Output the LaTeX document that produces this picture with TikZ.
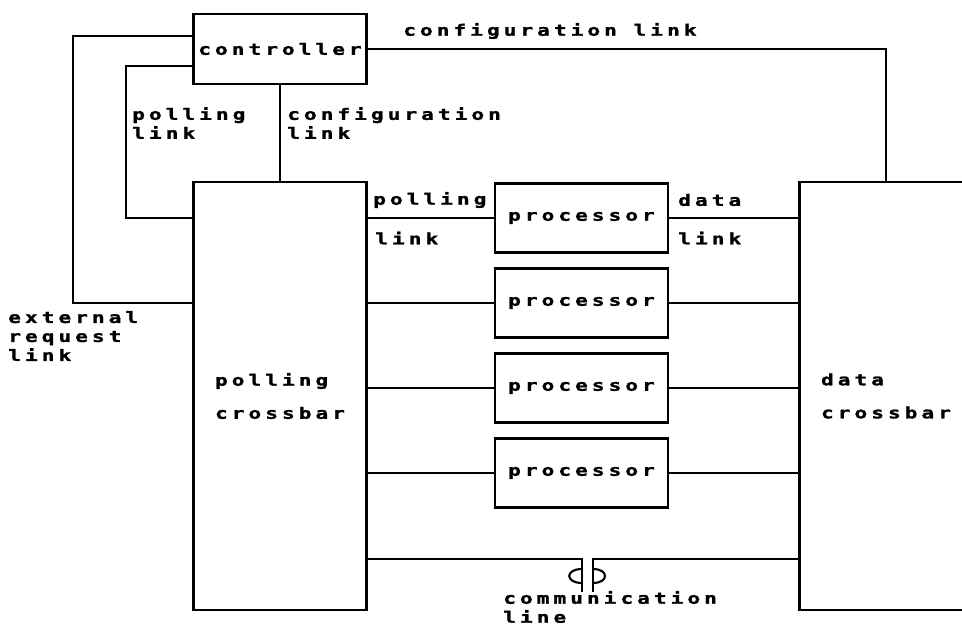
\documentclass[tikz,border=0pt]{standalone}
\usepackage{fontspec}
\newfontfamily\pixfont{DejaVu Sans Mono Bold}[FakeStretch=1.35,LetterSpace=26,FakeBold=1.5]
\usetikzlibrary{calc}

\tikzset{
  lbl/.style={font=\pixfont\fontsize{11.1}{13.5}\selectfont, inner sep=0pt},
  unit/.style={draw, line width=1.5pt, lbl, minimum width=4.325cm},
  wire/.style={line width=1.5pt}
}

\begin{document}
\begin{tikzpicture}[x=0.025cm,y=-0.025cm]
\useasboundingbox (0,0) rectangle (962,628);
\clip (0,0) rectangle (962,628);

% boxes
\node[unit, minimum height=1.75cm] (ctrl) at (280,49) {controller};
\node[unit, minimum height=10.7cm, align=left] (poll) at (280,396) {polling\\[10pt]crossbar};
\node[unit, minimum height=10.7cm, align=left] (data) at (886,396) {data\\[10pt]crossbar};
\foreach \i/\y in {1/218,2/303,3/388,4/473}
  \node[unit, minimum height=1.725cm] (p\i) at (581.5,\y) {processor};

% links between the crossbars and the processors
\foreach \i in {1,...,4}{
  \draw[wire] (poll.east |- p\i) -- (p\i.west);
  \draw[wire] (p\i.east) -- (data.west |- p\i);
}

% controller links
\draw[wire] (ctrl.east) -| (data.north);
\draw[wire] (ctrl.south) -- (ctrl.south |- poll.north);
\draw[wire] (ctrl.west) ++(0,17) -| (126,218) -- (poll.west |- p1);
\draw[wire] (ctrl.west) ++(0,-13) -| (73,303) -- (poll.west |- p2);

% communication line
\coordinate (comm) at (587,559);
\draw[wire] (poll.east |- comm) -| ([xshift=-0.125cm]comm) -- ++(0,33);
\draw[wire] (data.west |- comm) -| ([xshift=0.15cm]comm) -- ++(0,33);
\draw[wire] (582,569) .. controls (565,569) and (565,583) .. (582,583);
\draw[wire] (593,569) .. controls (609,569) and (609,583) .. (593,583);

% labels
\node[lbl, anchor=west] (cfgtop) at (403,31) {configuration link};
\node[lbl, anchor=west, align=left] (plink) at (132,123) {polling\\link};
\node[lbl, anchor=west, align=left] (cfglink) at (287,123) {configuration\\link};
\node[lbl, anchor=west] (pl1) at (373,200) {polling};
\node[lbl, anchor=west] (pl2) at (375,238) {link};
\node[lbl, anchor=west] (dl1) at (678,200) {data};
\node[lbl, anchor=west] (dl2) at (678,238) {link};
\node[lbl, anchor=west, align=left] (ext) at (8,336) {external\\request\\link};
\node[lbl, anchor=west, align=left] (commlbl) at (503,607) {communication\\line};
\end{tikzpicture}
\end{document}
